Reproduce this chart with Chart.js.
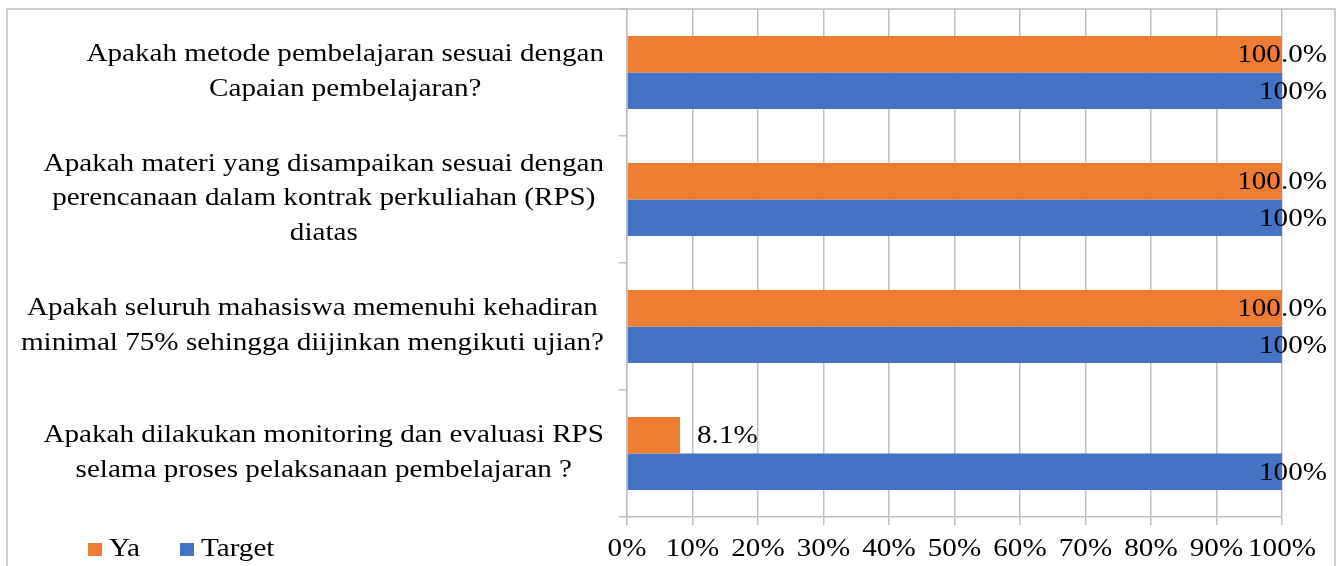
<!DOCTYPE html>
<html>
<head>
<meta charset="utf-8">
<script src="https://cdn.jsdelivr.net/npm/chart.js@4/dist/chart.umd.min.js"></script>
<style>
  html, body { margin: 0; padding: 0; background: #fff; }
  #wrap { width: 1342px; height: 566px; position: relative; }
</style>
</head>
<body>
<div id="wrap"><canvas id="c" width="1342" height="566"></canvas></div>
<script>
const categories = [
  ["Apakah metode pembelajaran sesuai dengan", "Capaian pembelajaran?"],
  ["Apakah materi yang disampaikan sesuai dengan", "perencanaan dalam kontrak perkuliahan (RPS)", "diatas"],
  ["Apakah seluruh mahasiswa memenuhi kehadiran", "minimal 75% sehingga diijinkan mengikuti ujian?"],
  ["Apakah dilakukan monitoring dan evaluasi RPS", "selama proses pelaksanaan pembelajaran ?"]
];
const seriesNames = ["Ya", "Target"];
const yaValues = [100.0, 100.0, 100.0, 8.1];
const targetValues = [100, 100, 100, 100];
const yaDecimals = 1;
const targetDecimals = 0;

const FONT = "'Liberation Serif', 'Times New Roman', serif";
const FS = 26;
const SX = 1.12; // horizontal stretch of the reference text
const ORANGE = "#ED7D31";
const BLUE = "#4472C4";
const GRID = "#BFBFBF";

function textW(ctx, t) { return ctx.measureText(t).width * SX; }
function drawText(ctx, t, x, y, align) {
  ctx.save();
  ctx.translate(x, y);
  ctx.scale(SX, 1);
  ctx.textAlign = align;
  ctx.fillText(t, 0, 0);
  ctx.restore();
}

const frame = {
  id: "frame",
  beforeDraw(chart) {
    const ctx = chart.ctx;
    ctx.save();
    ctx.fillStyle = "#fff";
    ctx.fillRect(0, 0, chart.width, chart.height);
    ctx.strokeStyle = GRID;
    ctx.lineWidth = 1.5;
    ctx.beginPath();
    ctx.moveTo(7, 570); ctx.lineTo(7, 9); ctx.lineTo(1335, 9); ctx.lineTo(1335, 570);
    ctx.stroke();
    ctx.restore();
  }
};

const textPlugin = {
  id: "texts",
  afterDraw(chart) {
    const ctx = chart.ctx;
    const ys = chart.scales.y;
    const xs = chart.scales.x;
    ctx.save();
    ctx.font = FS + "px " + FONT;
    ctx.fillStyle = "#000";
    ctx.textBaseline = "middle";
    // category labels
    const lh = 34.5;
    const right = 604;
    categories.forEach((lines, i) => {
      const cy = ys.getPixelForValue(i) - 1;
      const maxW = Math.max(...lines.map(l => textW(ctx, l)));
      const cx = right - maxW / 2;
      const y0 = cy - (lines.length - 1) * lh / 2;
      lines.forEach((l, k) => drawText(ctx, l, cx, y0 + k * lh, "center"));
    });
    // x tick labels from the scale's ticks
    xs.ticks.forEach((t, i) => {
      drawText(ctx, t.value + "%", xs.getPixelForTick(i), 549, "center");
    });
    // legend
    const lx = [88, 180];
    chart.data.datasets.forEach((ds, di) => {
      ctx.fillStyle = ds.backgroundColor;
      ctx.fillRect(lx[di], 543, 14, 13);
      ctx.fillStyle = "#000";
      drawText(ctx, ds.label, lx[di] + 21, 549, "left");
    });
    ctx.restore();
  }
};

const valueLabels = {
  id: "valueLabels",
  afterDatasetsDraw(chart) {
    const ctx = chart.ctx;
    ctx.save();
    ctx.font = FS + "px " + FONT;
    ctx.fillStyle = "#000";
    ctx.textBaseline = "middle";
    const dec = [yaDecimals, targetDecimals];
    chart.data.datasets.forEach((ds, di) => {
      const meta = chart.getDatasetMeta(di);
      meta.data.forEach((bar, i) => {
        const txt = ds.data[i].toFixed(dec[di]) + "%";
        const w = textW(ctx, txt);
        let x = bar.x + 17;
        if (x + w > 1327) x = 1327 - w;
        drawText(ctx, txt, x, bar.y + 1, "left");
      });
    });
    ctx.restore();
  }
};

new Chart(document.getElementById("c"), {
  type: "bar",
  data: {
    labels: categories.map(c => c.join(" ")),
    datasets: [
      { label: seriesNames[0], data: yaValues, backgroundColor: ORANGE },
      { label: seriesNames[1], data: targetValues, backgroundColor: BLUE }
    ]
  },
  options: {
    indexAxis: "y",
    responsive: false,
    animation: false,
    devicePixelRatio: 1,
    layout: { padding: { top: 9, right: 60, bottom: 0, left: 0 } },
    datasets: { bar: { categoryPercentage: 0.575, barPercentage: 1.0 } },
    plugins: { legend: { display: false }, tooltip: { enabled: false } },
    scales: {
      x: {
        min: 0, max: 100,
        ticks: { stepSize: 10, autoSkip: false, maxRotation: 0, display: false },
        grid: { color: GRID, lineWidth: 1.5, tickLength: 8 },
        border: { color: GRID, width: 1.5 },
        afterFit: s => { s.height = 49; }
      },
      y: {
        ticks: { display: false },
        grid: { drawOnChartArea: false, color: GRID, lineWidth: 1.5, tickLength: 8 },
        border: { color: GRID, width: 1.5 },
        afterFit: s => { s.width = 627; }
      }
    }
  },
  plugins: [frame, valueLabels, textPlugin]
});
</script>
</body>
</html>
